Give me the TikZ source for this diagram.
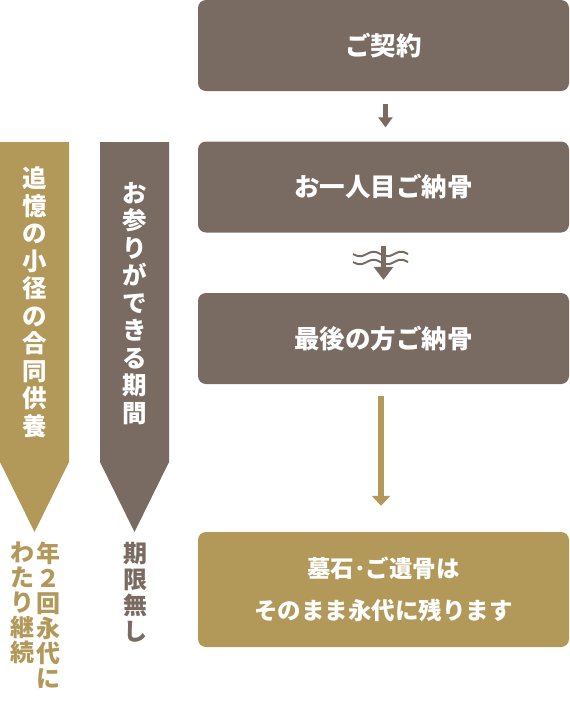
\documentclass[tikz,border=0pt]{standalone}
\usepackage{fontspec}
\newfontfamily\jp{Noto Sans CJK JP}
\usetikzlibrary{arrows.meta}
\definecolor{brownbox}{RGB}{121,106,98}
\definecolor{goldbox}{RGB}{179,153,89}

\tikzset{
  stepbox/.style={fill=#1, rounded corners=8pt, minimum width=371pt, minimum height=91pt,
    text=white, font=\jp\bfseries\fontsize{25.5}{42}\selectfont, align=center, inner sep=0pt},
  tate/.style={align=center, inner sep=0pt, font=\jp\bfseries\fontsize{24.5}{27.5}\selectfont},
  note/.style={align=center, inner sep=0pt, anchor=north, text=#1},
}

\begin{document}
\begin{tikzpicture}[x=1pt, y=-1pt]
  \useasboundingbox (0,0) rectangle (570,716);

  % steps on the right
  \node[stepbox=brownbox] (contract) at (383.5,45.5) {ご契約};
  \node[stepbox=brownbox] (first)    at (383.5,187)  {お一人目ご納骨};
  \node[stepbox=brownbox] (last)     at (383.5,338.5) {最後の方ご納骨};
  \node[stepbox=goldbox, minimum height=115pt, font=\jp\bfseries\fontsize{23.5}{42}\selectfont]
    (remain) at (383.5,589.5) {墓石･ご遺骨は\\そのまま永代に残ります};

  % arrows between steps
  \draw[brownbox, line width=5.5pt, -{Triangle[width=14pt,length=10pt]},
    shorten <=13pt, shorten >=14pt]
    ([xshift=2pt]contract.south) -- ([xshift=2pt]first.north);
  \draw[brownbox, line width=5pt, -{Triangle[width=19pt,length=13pt]},
    shorten <=13pt, shorten >=13pt]
    (first.south) -- (last.north);
  \draw[brownbox, line width=2pt] plot[domain=353:408, samples=80] (\x, {254+2.2*sin((\x-353)*13.1)});
  \draw[brownbox, line width=2pt] plot[domain=353:408, samples=80] (\x, {262+2.2*sin((\x-353)*13.1)});
  \draw[goldbox, line width=5.5pt, -{Triangle[width=18pt,length=10pt]},
    shorten <=12pt, shorten >=26pt]
    ([xshift=-2.5pt]last.south) -- ([xshift=-2.5pt]remain.north);

  % banners on the left
  \fill[goldbox]  (0,142) -- (69,142) -- (69,462) -- (34.5,532) -- (0,462) -- cycle;
  \fill[brownbox] (100,142) -- (169,142) -- (169,462) -- (134.5,532) -- (100,462) -- cycle;
  \node[tate, text=white] (path) at (34.5,302)
    {追\\憶\\の\\小\\径\\の\\合\\同\\供\\養};
  \node[tate, text=white] (period) at (134.5,303.5)
    {お\\参\\り\\が\\で\\き\\る\\期\\間};

  % notes under the banners
  \node[note=goldbox, font=\jp\bfseries\fontsize{24}{25}\selectfont] (twice) at (48,542)
    {年\\２\\回\\永\\代\\に};
  \node[note=goldbox, font=\jp\bfseries\fontsize{24}{25}\selectfont] (cont) at (22,542)
    {わ\\た\\り\\継\\続};
  \node[note=brownbox, font=\jp\bfseries\fontsize{24}{26}\selectfont] (nolimit) at (135,542)
    {期\\限\\無\\し};
\end{tikzpicture}
\end{document}
